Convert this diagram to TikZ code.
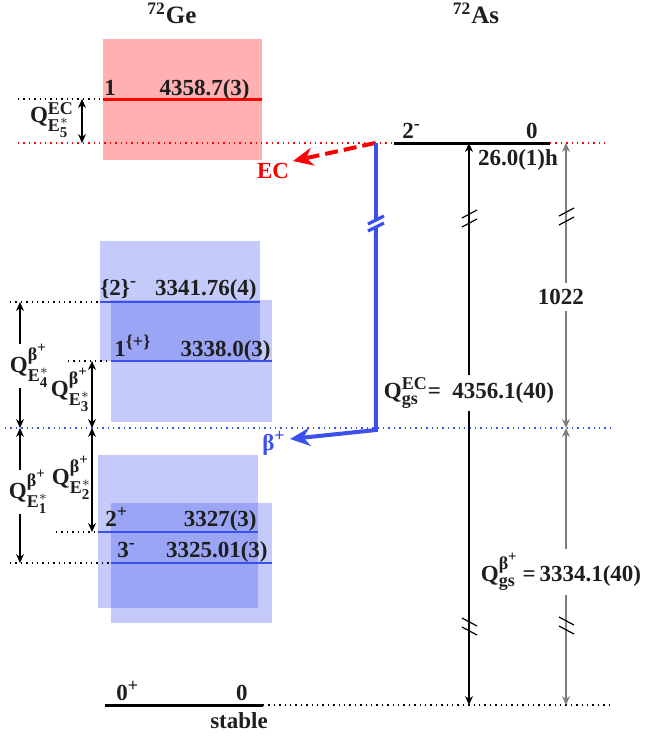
\documentclass[tikz,border=0pt]{standalone}
\usepackage{fontspec}
\usepackage{amsmath}
\setmainfont{Liberation Serif}
\usetikzlibrary{arrows.meta}
\DeclareMathSizes{11.5}{11.5}{9}{7.5}

\definecolor{ecred}{RGB}{250,0,0}
\definecolor{bpblue}{RGB}{60,80,235}
\definecolor{qgray}{RGB}{125,125,125}
\definecolor{txt}{RGB}{30,30,30}

\newcommand{\qsym}[2]{\textbf{Q}$^{#1}_{#2}$}
\newcommand{\bplus}{\textbf{β}^{\textbf{+}}}
\newcommand{\estar}[1]{\textbf{E}^{*}_{\textbf{#1}}}

\begin{document}
\begin{tikzpicture}[x=0.5pt,y=-0.5pt,>={Stealth[length=4.5pt,width=4pt]},
    lbl/.style={font=\bfseries\fontsize{11.5}{13}\selectfont,text=txt,inner sep=0pt},
    lvl/.style={line width=1.5pt},
    guide/.style={dotted,line width=0.7pt},
    qarr/.style={line width=0.6pt},
    bigtip/.style={-{Stealth[length=10pt,width=9pt]}},
    brkup/.pic={\draw[line width=0.6pt] (-7,0)--(8,-8) (-7,9)--(8,1);},
    brkdn/.pic={\draw[line width=0.6pt] (-7,-9)--(8,-1) (-7,0)--(8,8);}]
\useasboundingbox (0,0) rectangle (669,736);

% boxes
\fill[red,opacity=0.31] (103,39) rectangle (262,160);
\fill[bpblue,opacity=0.3] (100,241) rectangle (260,361);
\fill[bpblue,opacity=0.3] (111,300) rectangle (272,422);
\fill[bpblue,opacity=0.3] (98,455) rectangle (258,608);
\fill[bpblue,opacity=0.3] (111,503) rectangle (272,623);

% titles
\node[lbl,font=\bfseries\fontsize{12.5}{14}\selectfont,anchor=base] (ge) at (172,23) {\textsuperscript{72}Ge};
\node[lbl,font=\bfseries\fontsize{12.5}{14}\selectfont,anchor=base] (as) at (476,23) {\textsuperscript{72}As};

% level ends
\coordinate (e5l) at (103,99);  \coordinate (e5r) at (262,99);
\coordinate (e4l) at (100,302); \coordinate (e4r) at (260,302);
\coordinate (e3l) at (111,361); \coordinate (e3r) at (272,361);
\coordinate (e2l) at (98,532);  \coordinate (e2r) at (258,532);
\coordinate (e1l) at (111,563); \coordinate (e1r) at (272,563);
\coordinate (gel) at (105,705); \coordinate (ger) at (263,705);
\coordinate (asl) at (394,143); \coordinate (asr) at (550,143);

% guides
\draw[guide] (18,99) -- (e5l);
\draw[guide,ecred] (18,143) -- (asl) (asr) -- (608,143);
\draw[guide,bpblue] (5,428) -- (610,428);
\draw[guide] (10,302) -- (e4l);
\draw[guide] (68,361) -- (e3l);
\draw[guide] (56,532) -- (e2l);
\draw[guide] (10,563) -- (e1l);
\draw[guide] (ger) -- (610,705);

% levels
\draw[lvl,ecred] (e5l) -- (e5r);
\draw[lvl,bpblue,line width=1.3pt] (e4l)--(e4r) (e3l)--(e3r) (e2l)--(e2r) (e1l)--(e1r);
\draw[lvl] (gel)--(ger) (asl)--(asr);

\node[lbl,anchor=base west] (s5) at (104,95) {1};
\node[lbl,anchor=base east] (v5) at (250,95) {4358.7(3)};
\node[lbl,anchor=base west] (s4) at (100,295) {\{2\}\textsuperscript{-}};
\node[lbl,anchor=base east] (v4) at (257,295) {3341.76(4)};
\node[lbl,anchor=base west] (s3) at (114,356) {1\textsuperscript{\{+\}}};
\node[lbl,anchor=base east] (v3) at (271,356) {3338.0(3)};
\node[lbl,anchor=base west] (s2) at (105,526) {2\textsuperscript{+}};
\node[lbl,anchor=base east] (v2) at (257,526) {3327(3)};
\node[lbl,anchor=base west] (s1) at (117,557) {3\textsuperscript{-}};
\node[lbl,anchor=base east] (v1) at (268,557) {3325.01(3)};
\node[lbl,anchor=base west] (s0) at (116,700) {0\textsuperscript{+}};
\node[lbl,anchor=base] (v0) at (242,700) {0};
\node[lbl,anchor=base] (hl0) at (239,728) {stable};
\node[lbl,anchor=base west] (sas) at (402,138) {2\textsuperscript{-}};
\node[lbl,anchor=base] (vas) at (532,138) {0};
\node[lbl,anchor=base] (has) at (518,165) {26.0(1)h};

% Q values on the left
\node[lbl] (q5) at (52,120) {\qsym{\textbf{EC}}{\estar{5}}};
\node[lbl] (q4) at (30,366) {\qsym{\bplus}{\estar{4}}};
\node[lbl] (q3) at (71,390) {\qsym{\bplus}{\estar{3}}};
\node[lbl] (q2) at (72,478) {\qsym{\bplus}{\estar{2}}};
\node[lbl] (q1) at (29,492) {\qsym{\bplus}{\estar{1}}};
\coordinate (a5t) at (82,99);  \coordinate (a5b) at (82,143);
\coordinate (a4t) at (20,302); \coordinate (a4b) at (20,428);
\coordinate (a3t) at (92,361); \coordinate (a3b) at (92,428);
\coordinate (a2t) at (92,428); \coordinate (a2b) at (92,532);
\coordinate (a1t) at (20,428); \coordinate (a1b) at (20,563);
\draw[qarr,<->] (a5t) -- (a5b);
\draw[qarr,->] (q4.north -| a4t) -- (a4t);
\draw[qarr,->] (q4.south -| a4b) -- (a4b);
\draw[qarr,<->] (a3t) -- (a3b);
\draw[qarr,<->] (a2t) -- (a2b);
\draw[qarr,->] (q1.north -| a1t) -- (a1t);
\draw[qarr,->] (q1.south -| a1b) -- (a1b);

% Q values on the right
\coordinate (rt) at (469,143); \coordinate (rb) at (469,705);
\coordinate (gt) at (566,143); \coordinate (gm) at (566,428); \coordinate (gb) at (566,705);
\node[lbl,inner ysep=1pt] (qgsec) at (469,393) {\qsym{\textbf{EC}}{\textbf{gs}}=~~4356.1(40)};
\node[lbl,inner ysep=3pt] (n1022) at (561,297) {1022};
\node[lbl,inner ysep=2pt] (qgsb) at (561,572) {\qsym{\bplus}{\textbf{gs}}\,=\,3334.1(40)};
\draw[qarr,->] (qgsec.north -| rt) -- (rt);
\draw[qarr,->] (qgsec.south -| rb) -- (rb);
\draw[qarr,qgray,->] (n1022.north -| gt) -- (gt);
\draw[qarr,qgray,->] (n1022.south -| gm) -- (gm);
\draw[qarr,qgray,->] (qgsb.north -| gm) -- (gm);
\draw[qarr,qgray,->] (qgsb.south -| gb) -- (gb);
\pic at (469,218) {brkup};
\pic at (566,216) {brkup};
\pic at (469,627) {brkdn};
\pic at (566,626) {brkdn};

% EC branch
\coordinate (ecstart) at (375,143); \coordinate (ectip) at (293,161);
\draw[ecred,line width=2pt,dash pattern=on 6.5pt off 3pt,bigtip] (ecstart) -- (ectip);
\node[lbl,text=ecred] (ec) at (273,171) {EC};

% beta+ branch
\coordinate (bptop) at (376,143); \coordinate (bpgap1) at (376,221);
\coordinate (bpgap2) at (376,228); \coordinate (bpcorner) at (376,430);
\coordinate (bptip) at (290,439);
\draw[bpblue,line width=2pt] (bptop) -- (bpgap1);
\draw[bpblue,line width=2pt,bigtip] (bpgap2) -- (bpcorner) -- (bptip);
\draw[bpblue,line width=1.6pt] (368,224)--(384,216) (368,231)--(384,223);
\node[lbl,text=bpblue] (bp) at (274,443) {β\textsuperscript{+}};

\end{tikzpicture}
\end{document}
